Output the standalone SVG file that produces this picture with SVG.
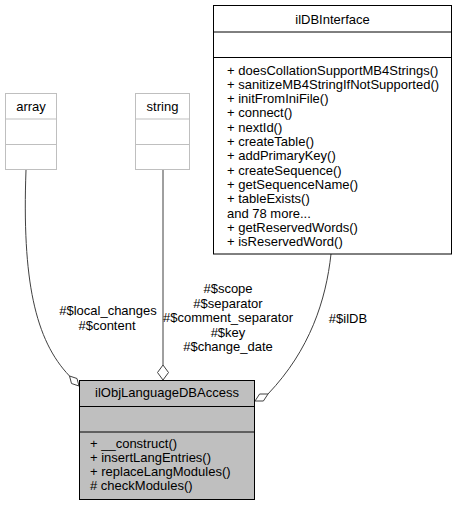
<svg xmlns="http://www.w3.org/2000/svg" width="455" height="507" viewBox="0 0 455 507">
<style>
text{font-family:"Liberation Sans",Arial,Helvetica,sans-serif;font-size:13px;fill:#000}
.c{text-anchor:middle}
.ext{fill:#fff;stroke:#bfbfbf;stroke-width:1}
.doc{fill:#fff;stroke:#000;stroke-width:1}
.main{fill:#bfbfbf;stroke:#000;stroke-width:1}
.edge{fill:none;stroke:#404040;stroke-width:1}
.dia{fill:#fff;stroke:#404040;stroke-width:1}
</style>
<rect width="455" height="507" fill="#fff"/>
<g id="connectors">
<path class="edge" d="M26,170 C22,280 35,340 69.5,376"/>
<polygon class="dia" points="79,386 71.5,383.5 69.5,376 77,378.5"/>
<path class="edge" d="M163,170 L163,365"/>
<polygon class="dia" points="163,365 168.5,372.5 163,380 157.5,372.5"/>
<path class="edge" d="M331,254 C326,300 310,350 268,394"/>
<polygon class="dia" points="255,401 263.4,401 268,394 259.6,394"/>
<g id="labels">
<text class="c" x="108" y="315">#$local_changes</text>
<text class="c" x="107" y="329.5">#$content</text>
<text class="c" x="228" y="293">#$scope</text>
<text class="c" x="228" y="307.5">#$separator</text>
<text class="c" x="228" y="322">#$comment_separator</text>
<text class="c" x="228" y="336.5">#$key</text>
<text class="c" x="228" y="351">#$change_date</text>
<text class="c" x="348" y="322.5">#$ilDB</text>
</g>
</g>
<g id="array">
<rect class="ext" x="5.5" y="93.5" width="51" height="76"/>
<line class="ext" x1="5.5" y1="119" x2="56.5" y2="119"/>
<line class="ext" x1="5.5" y1="144.5" x2="56.5" y2="144.5"/>
<text class="c" x="31" y="110.5">array</text>
</g>
<g id="string">
<rect class="ext" x="135.5" y="93.5" width="54" height="76"/>
<line class="ext" x1="135.5" y1="119" x2="189.5" y2="119"/>
<line class="ext" x1="135.5" y1="144.5" x2="189.5" y2="144.5"/>
<text class="c" x="162.5" y="110.5">string</text>
</g>
<g id="ilDBInterface">
<rect class="doc" x="213.5" y="5.5" width="238" height="248.5"/>
<line class="doc" x1="213.5" y1="32" x2="451.5" y2="32"/>
<line class="doc" x1="213.5" y1="57.5" x2="451.5" y2="57.5"/>
<text class="c" x="332.5" y="23.5">ilDBInterface</text>
<text x="227" y="74.5">+ doesCollationSupportMB4Strings()</text>
<text x="227" y="88.8">+ sanitizeMB4StringIfNotSupported()</text>
<text x="227" y="103.1">+ initFromIniFile()</text>
<text x="227" y="117.4">+ connect()</text>
<text x="227" y="131.7">+ nextId()</text>
<text x="227" y="146">+ createTable()</text>
<text x="227" y="160.3">+ addPrimaryKey()</text>
<text x="227" y="174.6">+ createSequence()</text>
<text x="227" y="188.9">+ getSequenceName()</text>
<text x="227" y="203.2">+ tableExists()</text>
<text x="227" y="217.5">and 78 more...</text>
<text x="227" y="231.8">+ getReservedWords()</text>
<text x="227" y="246.1">+ isReservedWord()</text>
</g>
<g id="ilObjLanguageDBAccess">
<rect class="main" x="79.5" y="380.5" width="175" height="119"/>
<line class="main" x1="79.5" y1="406.5" x2="254.5" y2="406.5"/>
<line class="main" x1="79.5" y1="432" x2="254.5" y2="432"/>
<text class="c" x="167" y="397">ilObjLanguageDBAccess</text>
<text x="90" y="447.5">+ __construct()</text>
<text x="90" y="461.8">+ insertLangEntries()</text>
<text x="90" y="476.1">+ replaceLangModules()</text>
<text x="90" y="490.4"># checkModules()</text>
</g>
</svg>
